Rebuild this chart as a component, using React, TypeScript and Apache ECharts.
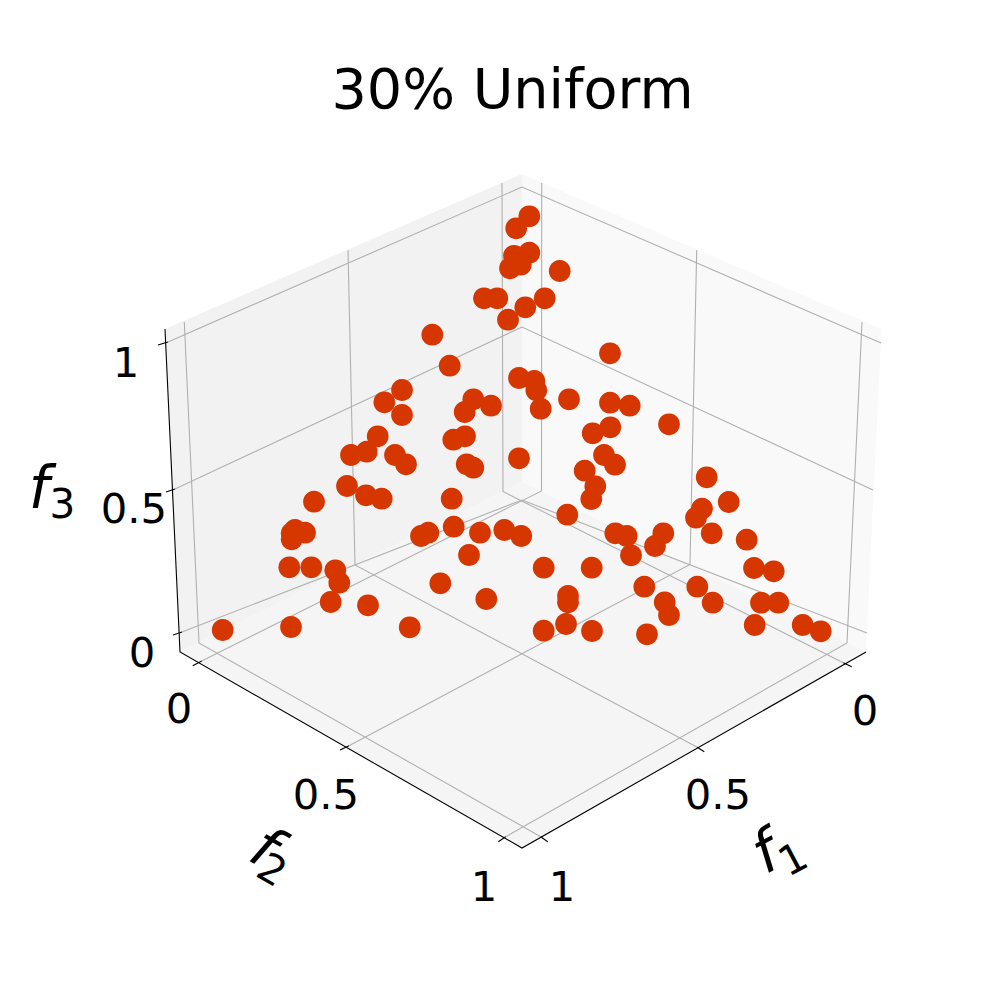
import React, { useEffect, useRef } from "react";
import * as echarts from "echarts";

const TITLE = "30% Uniform";
const FONT = '"DejaVu Sans", sans-serif';

// Projected positions of the points on the picture plane (axis units).
const pointX = [529.3,516.2,529.3,514,520.7,510,559.7,484,497.3,544.7,525.3,508,432.3,610,449.7,519,534.3,536.3,402,384.3,473.3,491,464.7,402,569,610,629.7,540.7,669,610.3,592.7,377.7,465,453.3,351,366.7,395,406,519,604,615,466.7,473.3,584.7,706.7,347,595.3,591.3,366,381.7,451.7,314,728.7,702,696,567.3,295,305,291.7,291.7,453.7,421,428.3,480,504.3,521.2,615.3,626.7,663.3,655,711.7,746.7,631,469,289.3,311.3,335.3,339.3,543.7,591.7,754,773.7,440.3,644.3,697.3,486.3,568,568,330.7,368,664.7,669,712.7,761,778.3,754.7,802.7,820.7,222.7,291,409.7,543.7,566,592,647];
const pointY = [216.3,228.3,252.7,255.8,264.7,268.3,271,298.3,298.3,298.3,307.3,319.7,334.7,353.3,365.7,378,381,390.3,390,402.3,399.3,405.7,412,415,399.3,402.7,405.7,408.7,424.3,427.3,433.3,436.3,436.3,439.7,455,451.7,455,464.3,458.3,455,464.7,464.3,467.7,470.7,477.3,486,486.3,499,495.3,498.7,498.7,501.7,502,508.6,517.7,514.7,530,532.7,533.3,539.3,526.7,536,532.7,532.7,530,536,533.3,536,533.3,546,533.3,539.7,555.3,555,567.3,567.3,570.3,582.7,567.7,567.7,568,571.3,583.3,586.7,586.7,599,596,602.3,602,605.3,602.3,615,602.7,602.7,602.7,625,625,631.3,630,627,627.3,630.7,624,631,634.3];
const pointData = pointX.map((x, i) => [x, pointY[i]]);

type Pt = [number, number];

const paneOutlines: { fill: string; pts: Pt[] }[] = [
  { fill: "#f2f2f2", pts: [[165, 329], [522, 174], [522, 482], [180, 652]] },
  { fill: "#f9f9f9", pts: [[522, 174], [881.5, 329], [866, 652], [522, 482]] },
  { fill: "#f5f5f5", pts: [[180, 652], [522, 482], [866, 652], [522, 848]] },
];

const gridSegments: Pt[][] = [
  [[168, 342], [522, 187], [881, 343]],
  [[175, 489], [522, 327], [873, 490]],
  [[182, 632], [522, 500], [867, 633]],
  [[184.3, 322], [199, 643], [540.7, 836.7]],
  [[348, 250], [355, 565], [697.3, 747.3]],
  [[502, 183], [503, 491.5], [843.3, 662.7]],
  [[541.7, 183], [541.5, 491], [201.7, 661]],
  [[696.7, 250], [690, 564.5], [349, 745.7]],
  [[862, 322], [847, 643], [505.7, 836.7]],
];

const axisSegments: Pt[][] = [
  [[165, 329], [180, 652], [522, 848], [866, 652]],
  [[158, 345], [168, 342]],
  [[166, 492], [175, 489]],
  [[173, 635], [182, 632]],
  [[192.7, 665.7], [201.7, 661]],
  [[340, 750], [349, 745.7]],
  [[498.3, 841.7], [505.7, 836.7]],
  [[843.3, 662.7], [851.7, 666.7]],
  [[697.3, 747.3], [704.3, 751.7]],
  [[540.7, 836.7], [547.7, 841.7]],
];

const tickLabels: { text: string; x: number; y: number }[] = [
  { text: "1", x: 126, y: 362 },
  { text: "0.5", x: 134, y: 508 },
  { text: "0", x: 142, y: 652 },
  { text: "0", x: 179, y: 708 },
  { text: "0.5", x: 326, y: 794 },
  { text: "1", x: 484, y: 886 },
  { text: "0", x: 865, y: 710 },
  { text: "0.5", x: 718, y: 794 },
  { text: "1", x: 562, y: 886 },
];

const axisLabels: { sub: string; fx: number; fy: number; boxW: number; lineH: number; deg: number }[] = [
  { sub: "1", fx: 765, fy: 852, boxW: 18.7, lineH: 79, deg: 28 },
  { sub: "2", fx: 265, fy: 847, boxW: 14.9, lineH: 73, deg: -30 },
  { sub: "3", fx: 39, fy: 488, boxW: 20.6, lineH: 72.5, deg: 0 },
];

const noData = (list: unknown[]) => list.map((_, i) => [i, i]);

export default function App() {
  const ref = useRef<HTMLDivElement>(null);
  useEffect(() => {
    document.body.style.margin = "0";
    const chart = echarts.init(ref.current!, undefined, { renderer: "svg" });
    const texts: any[] = [];
    tickLabels.forEach((t) =>
      texts.push({
        type: "text",
        x: t.x,
        y: t.y,
        z: 10,
        style: { text: t.text, fontFamily: FONT, fontSize: 41.7, fill: "#000", align: "center", verticalAlign: "middle" },
      })
    );
    axisLabels.forEach((l) => {
      const rotation = (l.deg * Math.PI) / 180;
      const half = 10.2;
      texts.push({
        type: "text",
        x: l.fx - half * Math.cos(rotation),
        y: l.fy + half * Math.sin(rotation),
        rotation,
        z: 10,
        style: {
          text: `{a|f}{b|${l.sub}}`,
          fill: "#000",
          align: "left",
          verticalAlign: "middle",
          rich: {
            a: { fontFamily: FONT, fontStyle: "italic", fontSize: 58, fill: "#000", width: l.boxW, lineHeight: l.lineH, verticalAlign: "middle" },
            b: { fontFamily: FONT, fontSize: 40.5, fill: "#000", lineHeight: 40.5, verticalAlign: "bottom" },
          },
        },
      });
    });

    const linesSeries = (list: Pt[][], color: string, width: number, z: number) => ({
      type: "custom",
      coordinateSystem: "cartesian2d",
      silent: true,
      clip: false,
      z,
      data: noData(list),
      renderItem: (params: any, api: any) => ({
        type: "polyline",
        shape: { points: list[params.dataIndex].map((p) => api.coord(p)) },
        style: { stroke: color, lineWidth: width, fill: "none" },
      }),
    });

    chart.setOption({
      animation: false,
      backgroundColor: "#fff",
      title: {
        text: TITLE,
        left: 507.5,
        top: 55,
        textAlign: "center",
        textStyle: { fontFamily: FONT, fontSize: 55.6, fontWeight: "normal", color: "#000" },
      },
      grid: { left: 0, right: 0, top: 0, bottom: 0 },
      xAxis: { type: "value", min: 0, max: 1000, show: false },
      yAxis: { type: "value", min: 0, max: 1000, inverse: true, show: false },
      graphic: { elements: texts },
      series: [
        {
          type: "custom",
          coordinateSystem: "cartesian2d",
          silent: true,
          clip: false,
          z: 1,
          data: noData(paneOutlines),
          renderItem: (params: any, api: any) => {
            const pane = paneOutlines[params.dataIndex];
            return {
              type: "polygon",
              shape: { points: pane.pts.map((p) => api.coord(p)) },
              style: { fill: pane.fill },
            };
          },
        },
        linesSeries(gridSegments, "#b0b0b0", 1.1, 2),
        linesSeries(axisSegments, "#000000", 1.1, 3),
        {
          type: "scatter",
          z: 4,
          symbol: "circle",
          symbolSize: 21.8,
          silent: true,
          itemStyle: { color: "#d63600", opacity: 1 },
          data: pointData,
        },
      ],
    });
    return () => chart.dispose();
  }, []);
  return <div ref={ref} style={{ position: "absolute", left: 0, top: 0, width: 1000, height: 1000 }} />;
}
